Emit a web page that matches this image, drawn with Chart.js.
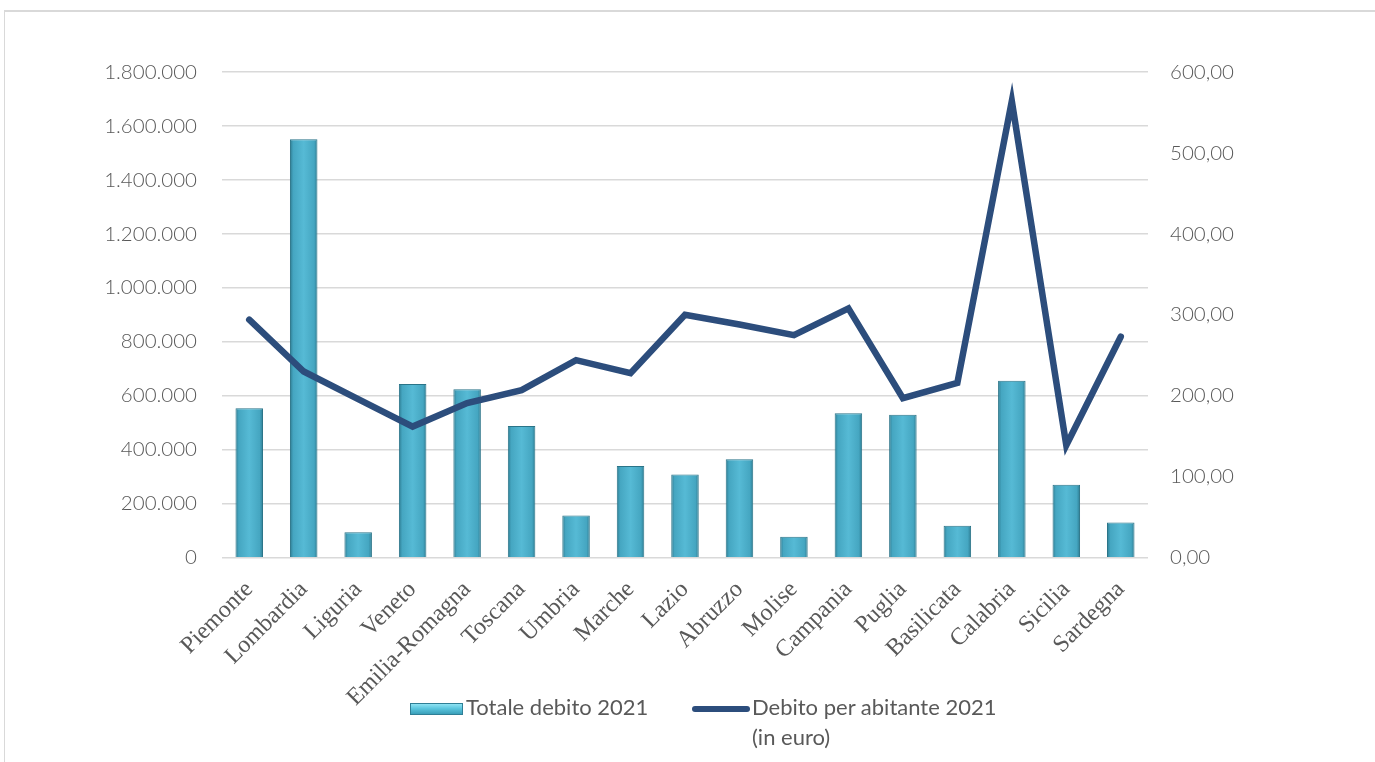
<!DOCTYPE html>
<html><head><meta charset="utf-8">
<script src="https://cdn.jsdelivr.net/npm/chart.js@4.4.0/dist/chart.umd.min.js"></script>
<style>
html,body{margin:0;padding:0;background:#fff;width:1375px;height:762px;overflow:hidden;}
#frame{position:absolute;left:4px;top:10px;width:1400px;height:800px;border-left:1px solid #d9d9d9;border-top:2px solid #d9d9d9;box-sizing:border-box;}
#cwrap{position:absolute;left:0;top:0;width:1375px;height:762px;}
.leg{position:absolute;font-family:Lato,"Open Sans",sans-serif;font-size:22px;color:#595959;line-height:30px;white-space:nowrap;}
.sw1{position:absolute;left:410px;top:703px;width:53px;height:12px;background:linear-gradient(to bottom,#8fe3f3 0%,#5cc6de 45%,#3a9fb9 100%);border:1px solid #2f7f96;box-sizing:border-box;}
.sw2{position:absolute;left:692px;top:706px;width:58px;height:6px;border-radius:3px;background:#2c4d7c;}
</style></head>
<body>
<div id="frame"></div>
<div id="cwrap"><canvas id="c" width="1375" height="762"></canvas></div>
<div class="sw1"></div>
<div class="leg" style="left:466px;top:692px;">Totale debito 2021</div>
<div class="sw2"></div>
<div class="leg" style="left:752px;top:692px;">Debito per abitante 2021<br>(in euro)</div>
<script>
const categories = ['Piemonte','Lombardia','Liguria','Veneto','Emilia-Romagna','Toscana','Umbria','Marche','Lazio','Abruzzo','Molise','Campania','Puglia','Basilicata','Calabria','Sicilia','Sardegna'];
const totaleDebito2021 = [554000,1551000,94000,644000,624000,488000,156000,340000,308000,365000,78000,535000,530000,118000,656000,270000,130000];
const debitoPerAbitante2021 = [294,230,196,162,191,207,244,228,300,288,275,308,197,216,564,139,273];
const leftTickLabels = ['0','200.000','400.000','600.000','800.000','1.000.000','1.200.000','1.400.000','1.600.000','1.800.000'];
const rightTickLabels = ['0,00','100,00','200,00','300,00','400,00','500,00','600,00'];
const legendLabels = ['Totale debito 2021','Debito per abitante 2021 (in euro)'];

const BAR_PCT = 0.505;
function barFill(ctx){
  const chart = ctx.chart;
  const xs = chart.scales && chart.scales.x;
  if (!xs || ctx.dataIndex === undefined || !xs.width) return '#4bacc6';
  const cx = xs.getPixelForValue(ctx.dataIndex);
  const w = xs.width / categories.length * BAR_PCT;
  const g = chart.ctx.createLinearGradient(cx - w/2, 0, cx + w/2, 0);
  g.addColorStop(0, '#2d7b91');
  g.addColorStop(0.12, '#45a6c1');
  g.addColorStop(0.5, '#56bad5');
  g.addColorStop(0.88, '#45a6c1');
  g.addColorStop(1, '#2d7b91');
  return g;
}

const tickFontL = {family:'Lato, "Open Sans", sans-serif', size:20.5, weight:300};
new Chart(document.getElementById('c'), {
  data: {
    labels: categories,
    datasets: [
      {type:'line', label: legendLabels[1], data: debitoPerAbitante2021, yAxisID:'y1',
       borderColor:'#2c4d7c', borderWidth:6.5, pointRadius:0, tension:0, order:0,
       borderCapStyle:'round', borderJoinStyle:'miter', fill:false},
      {type:'bar', label: legendLabels[0], data: totaleDebito2021, yAxisID:'y',
       backgroundColor: barFill, borderColor:'#2a7488', borderWidth:1,
       barPercentage: BAR_PCT, categoryPercentage:1, order:1}
    ]
  },
  options: {
    responsive:false, animation:false, devicePixelRatio:1,
    layout:{padding:{top:72, left:0, right:0, bottom:0}},
    plugins:{legend:{display:false}, tooltip:{enabled:false}},
    scales:{
      x:{
        grid:{display:false, drawTicks:false}, border:{display:false},
        ticks:{color:'#595959', font:{family:'"Liberation Serif", serif', size:24}, minRotation:45, maxRotation:45, padding:18, autoSkip:false},
        afterFit(s){ s.height = 762 - 557.7; }
      },
      y:{
        position:'left', min:0, max:1800000,
        grid:{color:'#d9d9d9', lineWidth:1.5, drawTicks:false}, border:{display:false},
        ticks:{stepSize:200000, color:'#595959', font:tickFontL, padding:25,
          callback:(v,i)=>leftTickLabels[i]},
        afterFit(s){ s.width = 222; }
      },
      y1:{
        position:'right', min:0, max:600,
        grid:{display:false, drawTicks:false}, border:{display:false},
        ticks:{stepSize:100, color:'#595959', font:tickFontL, padding:22,
          callback:(v,i)=>rightTickLabels[i]},
        afterFit(s){ s.width = 1375 - 1148; }
      }
    }
  }
});
</script>
</body></html>
